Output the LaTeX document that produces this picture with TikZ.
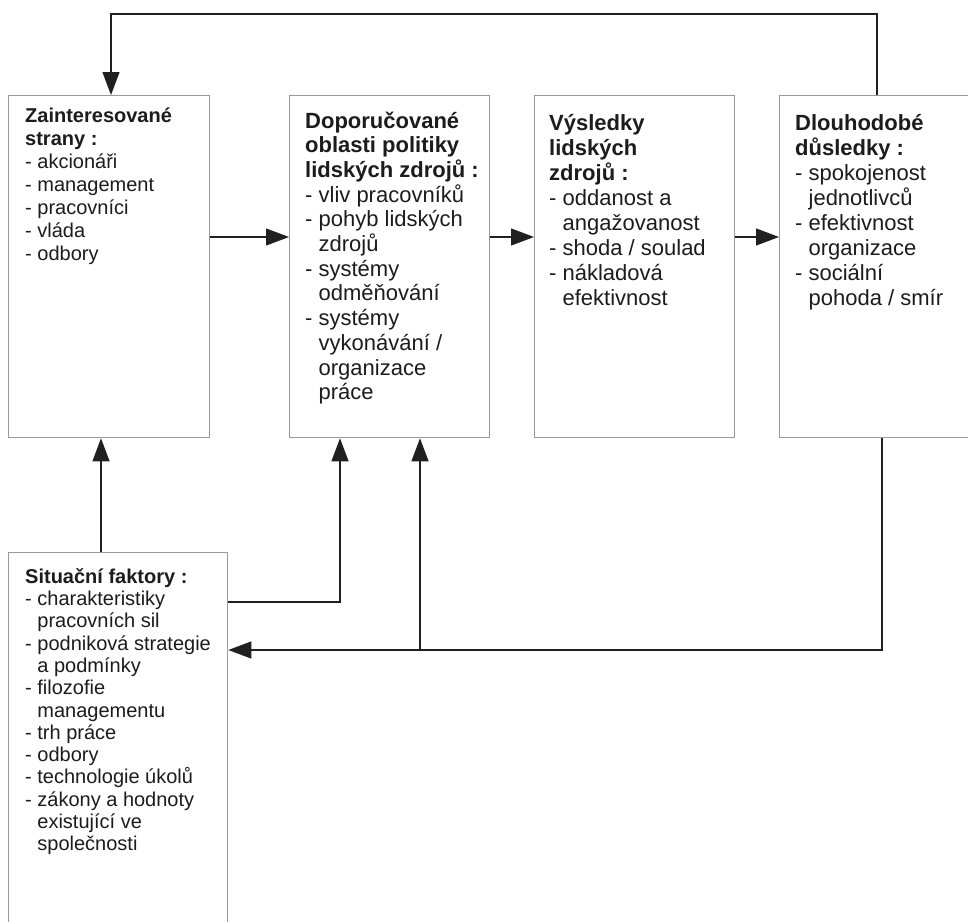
\documentclass[tikz,border=0pt]{standalone}
\usepackage{fontspec}
\setmainfont{Liberation Sans}
\usetikzlibrary{arrows.meta}
\definecolor{boxline}{HTML}{9A9A9A}
\definecolor{ink}{HTML}{1C1C1C}
\definecolor{wire}{HTML}{202020}
\newcommand\hangpad{\hphantom{- }}
\newcommand\firstline{\rule{0pt}{0.9em}}
\tikzset{
  panel/.style={draw=boxline, line width=1.3pt, fill=white, rectangle, inner sep=0pt, anchor=north west},
  label/.style={anchor=north west, inner sep=0pt, align=left, text=ink},
  fsA/.style={font=\fontsize{20}{22.3}\selectfont},
  fsD/.style={font=\fontsize{20}{23.1}\selectfont},
  fsB/.style={font=\fontsize{22}{24.7}\selectfont},
  fsC/.style={font=\fontsize{22}{25}\selectfont},
  arr/.style={draw=wire, line width=1.1pt, -{Triangle[length=23pt, width=17pt]}}
}
\begin{document}
\begin{tikzpicture}[x=1pt, y=-1pt]
  \useasboundingbox (0,0) rectangle (968,921);
  \clip (0,0) rectangle (968,921);

  % boxes
  \node[panel, minimum width=201pt, minimum height=342pt] (b1) at (8,95) {};
  \node[panel, minimum width=200pt, minimum height=342pt] (b2) at (289,95) {};
  \node[panel, minimum width=200pt, minimum height=342pt] (b3) at (534,95) {};
  \node[panel, minimum width=230pt, minimum height=342pt] (b4) at (779,95) {};
  \node[panel, minimum width=219pt, minimum height=420pt] (b5) at (8,552) {};

  % box texts
  \node[label, fsD] (t1) at (25,104) {\firstline\textbf{Zainteresované}\\
    \textbf{strany :}\\
    - akcionáři\\
    - management\\
    - pracovníci\\
    - vláda\\
    - odbory};
  \node[label, fsB] (t2) at (305,108) {\firstline\textbf{Doporučované}\\
    \textbf{oblasti politiky}\\
    \textbf{lidských zdrojů :}\\
    - vliv pracovníků\\
    - pohyb lidských\\
    \hangpad zdrojů\\
    - systémy\\
    \hangpad odměňování\\
    - systémy\\
    \hangpad vykonávání /\\
    \hangpad organizace\\
    \hangpad práce};
  \node[label, fsC] (t3) at (549,110) {\firstline\textbf{Výsledky}\\
    \textbf{lidských}\\
    \textbf{zdrojů :}\\
    - oddanost a\\
    \hangpad angažovanost\\
    - shoda / soulad\\
    - nákladová\\
    \hangpad efektivnost};
  \node[label, fsC] (t4) at (795,110) {\firstline\textbf{Dlouhodobé}\\
    \textbf{důsledky :}\\
    - spokojenost\\
    \hangpad jednotlivců\\
    - efektivnost\\
    \hangpad organizace\\
    - sociální\\
    \hangpad pohoda / smír};
  \node[label, fsA] (t5) at (25,565) {\firstline\textbf{Situační faktory :}\\
    - charakteristiky\\
    \hangpad pracovních sil\\
    - podniková strategie\\
    \hangpad a podmínky\\
    - filozofie\\
    \hangpad managementu\\
    - trh práce\\
    - odbory\\
    - technologie úkolů\\
    - zákony a hodnoty\\
    \hangpad existující ve\\
    \hangpad společnosti};

  % routing points
  \coordinate (row) at (0,237);
  \coordinate (fbR) at (877,14);
  \coordinate (fbL) at (111,14);
  \coordinate (up1) at (101,500);
  \coordinate (bend2) at (340,602);
  \coordinate (bend3) at (882,650);
  \coordinate (tap) at (420,650);

  % main flow
  \draw[arr] (b1.east |- row) -- (b2.west |- row);
  \draw[arr] (b2.east |- row) -- (b3.west |- row);
  \draw[arr] (b3.east |- row) -- (b4.west |- row);

  % feedback to stakeholders
  \draw[arr] (b4.north -| fbR) -- (fbR) -- (fbL) -- (b1.north -| fbL);

  % situational factors
  \draw[arr] (b5.north -| up1) -- (b1.south -| up1);
  \draw[arr] (b5.east |- bend2) -- (bend2) -- (b2.south -| bend2);

  % long-term consequences back to situational factors
  \draw[arr] (b4.south -| bend3) -- (bend3) -- (b5.east |- bend3);
  \draw[arr] (tap) -- (b2.south -| tap);
\end{tikzpicture}
\end{document}
